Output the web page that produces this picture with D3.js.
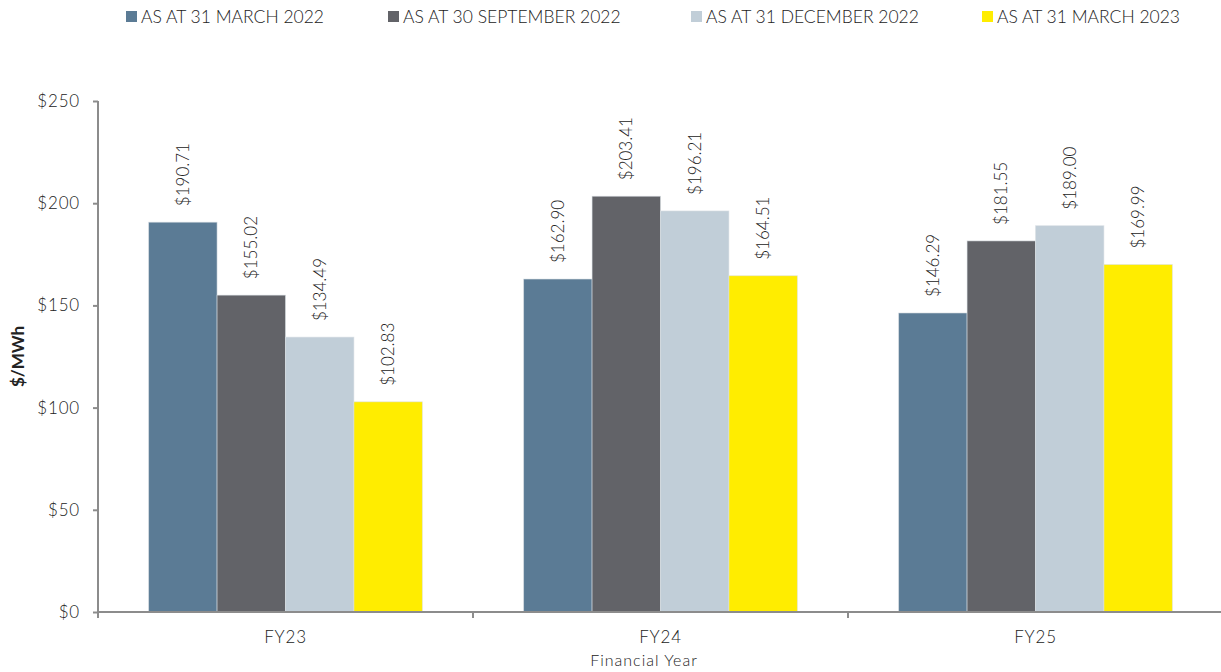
<!DOCTYPE html>
<html>
<head>
<meta charset="utf-8">
<script src="https://cdn.jsdelivr.net/npm/d3@7"></script>
<style>
  body { margin: 0; background: #fff; }
  svg { display: block; font-family: Lato, "Open Sans", sans-serif; font-weight: 300; }
  .axis path, .axis line { stroke: #8c8c8c; stroke-width: 2; }
  .axis text { fill: #222; font-family: Lato, "Open Sans", sans-serif; font-weight: 300;
    font-size: 17px; letter-spacing: 0.8px; }
</style>
</head>
<body>
<div class="wrapper"></div>
<script>
var categories = ["FY23", "FY24", "FY25"];
var seriesNames = [
  "AS AT 31 MARCH 2022",
  "AS AT 30 SEPTEMBER 2022",
  "AS AT 31 DECEMBER 2022",
  "AS AT 31 MARCH 2023"
];
var march2022 = [190.71, 162.90, 146.29];
var september2022 = [155.02, 203.41, 181.55];
var december2022 = [134.49, 196.21, 189.00];
var march2023 = [102.83, 164.51, 169.99];
var yTicks = [0, 50, 100, 150, 200, 250];
var colors = ["#5b7b95", "#626368", "#c1ced8", "#ffed00"];

var seriesValues = [march2022, september2022, december2022, march2023];
var dimensions = { width: 1221, height: 672 };
var margin = { top: 101, right: 0, bottom: 60, left: 98 };

function initChart() {
  var svg = d3.select(".wrapper").append("svg")
    .attr("width", dimensions.width)
    .attr("height", dimensions.height);

  var plotRight = 1223;
  var plotBottom = 612;

  var x0 = d3.scaleBand()
    .domain(categories)
    .range([margin.left, plotRight])
    .padding(0);

  var x1 = d3.scaleBand()
    .domain(d3.range(seriesNames.length))
    .range([0, x0.bandwidth()])
    .paddingInner(0)
    .paddingOuter(0.74);

  var y = d3.scaleLinear()
    .domain([0, 250])
    .range([plotBottom, margin.top]);

  // bars, grouped per financial year
  var groups = svg.append("g").selectAll("g")
    .data(categories)
    .join("g")
    .attr("transform", d => `translate(${x0(d)},0)`);

  var cells = groups.selectAll("g.cell")
    .data((d, i) => seriesValues.map((s, k) => ({ series: k, value: s[i] })))
    .join("g")
    .attr("class", "cell");

  cells.append("rect")
    .attr("x", d => x1(d.series))
    .attr("y", d => y(d.value))
    .attr("width", x1.bandwidth())
    .attr("height", d => y(0) - y(d.value))
    .attr("fill", d => colors[d.series])
    .attr("stroke", "rgba(220,225,230,0.7)")
    .attr("stroke-width", 0.8);

  cells.append("text")
    .attr("transform", d =>
      `translate(${x1(d.series) + x1.bandwidth() / 2 + 6},${y(d.value) - 16}) rotate(-90)`)
    .attr("text-anchor", "start")
    .attr("font-size", 17)
    .attr("fill", "#222")
    .text(d => "$" + d.value.toFixed(2));

  // y axis
  var yAxis = svg.append("g")
    .attr("class", "axis")
    .attr("transform", `translate(${margin.left},0)`)
    .call(d3.axisLeft(y).tickValues(yTicks).tickSize(5).tickPadding(13)
      .tickFormat(d => "$" + d));
  yAxis.select(".domain").attr("d", `M0,${y(250)}V${y(0)}`);

  // x axis with ticks between categories
  var xAxis = svg.append("g")
    .attr("class", "axis")
    .attr("transform", `translate(0,${plotBottom})`);
  xAxis.append("path")
    .attr("class", "domain")
    .attr("fill", "none")
    .attr("d", `M${margin.left},0H${dimensions.width}`);
  xAxis.selectAll("line.sep")
    .data(categories)
    .join("line")
    .attr("class", "sep")
    .attr("x1", d => x0(d)).attr("x2", d => x0(d))
    .attr("y1", 0).attr("y2", 6);
  xAxis.selectAll("text")
    .data(categories)
    .join("text")
    .attr("x", d => x0(d) + x0.bandwidth() / 2)
    .attr("y", 31)
    .attr("text-anchor", "middle")
    .text(d => d);

  // axis titles
  svg.append("text")
    .attr("transform", `translate(24,${(y(0) + y(250)) / 2}) rotate(-90)`)
    .attr("text-anchor", "middle")
    .attr("font-size", 17)
    .attr("font-weight", "bold")
    .attr("fill", "#222")
    .text("$/MWh");

  svg.append("text")
    .attr("x", 644)
    .attr("y", 666)
    .attr("text-anchor", "middle")
    .attr("font-size", 16)
    .attr("letter-spacing", "1px")
    .attr("fill", "#222")
    .text("Financial Year");

  // legend
  var legendX = [126, 388, 691, 982];
  var legend = svg.append("g").selectAll("g")
    .data(seriesNames)
    .join("g")
    .attr("transform", (d, i) => `translate(${legendX[i]},11)`);
  legend.append("rect")
    .attr("width", 11).attr("height", 11)
    .attr("fill", (d, i) => colors[i]);
  legend.append("text")
    .attr("x", 15)
    .attr("y", 12)
    .attr("font-size", 17.5)
    .attr("fill", "#222")
    .text(d => d);
}

initChart();
</script>
</body>
</html>
